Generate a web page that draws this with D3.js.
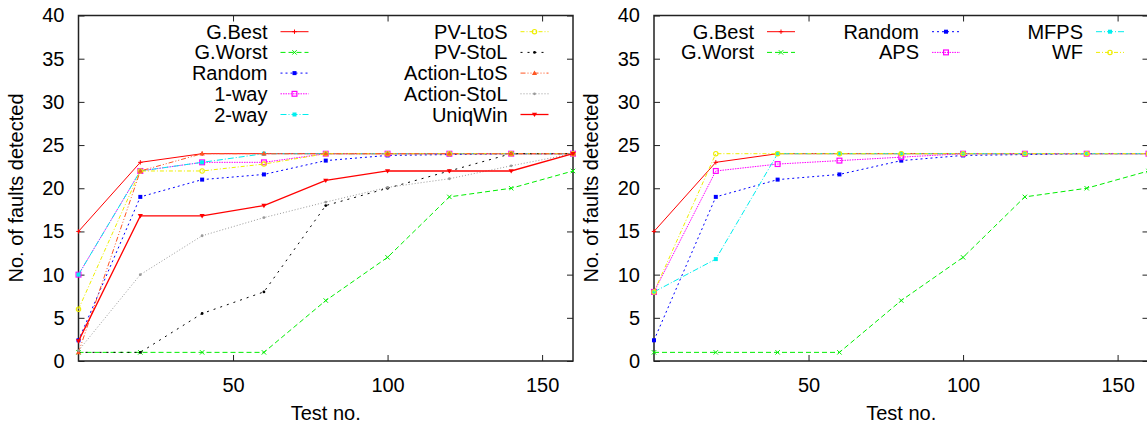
<!DOCTYPE html>
<html>
<head>
<meta charset="UTF-8">
<title>Faults detected</title>
<script src="https://d3js.org/d3.v7.min.js"></script>
<style>
  body { margin: 0; background: #fff; }
  svg text { font-family: "Liberation Sans", Arial, sans-serif; font-size: 20px; fill: #000; }
</style>
</head>
<body>
<svg id="chart" width="1147" height="425"></svg>
<script>
// data
const testNos = [0, 20, 40, 60, 80, 100, 120, 140, 160];
const xTicks = [50, 100, 150];
const yTicks = [0, 5, 10, 15, 20, 25, 30, 35, 40];

const gBest      = [15, 23, 24, 24, 24, 24, 24, 24, 24];
const gWorst     = [1, 1, 1, 1, 7, 12, 19, 20, 22];
const random     = [2.4, 19, 21, 21.6, 23.2, 23.8, 23.9, 24, 24];
const oneWay     = [10, 22, 23, 23, 24, 24, 24, 24, 24];
const twoWay     = [10, 22, 23, 24, 24, 24, 24, 24, 24];
const pvLtoS     = [6, 22, 22, 22.8, 24, 24, 24, 24, 24];
const pvStoL     = [1, 1, 5.5, 8, 18, 20, 22, 24, 24];
const actionLtoS = [1, 22, 24, 24, 24, 24, 24, 24, 24];
const actionStoL = [1.2, 10, 14.5, 16.6, 18.4, 20.1, 21.1, 22.6, 24];
const uniqWin    = [2.3, 16.8, 16.8, 18, 20.9, 22, 22, 22, 24];

const aps  = [8, 22, 22.8, 23.2, 23.6, 24, 24, 24, 24];
const mfps = [8, 11.8, 24, 24, 24, 24, 24, 24, 24];
const wf   = [8, 24, 24, 24, 24, 24, 24, 24, 24];

const leftNames  = ["G.Best", "G.Worst", "Random", "1-way", "2-way", "PV-LtoS", "PV-StoL", "Action-LtoS", "Action-StoL", "UniqWin"];
const rightNames = ["G.Best", "G.Worst", "Random", "APS", "MFPS", "WF"];

// styles
const sty = {
  "G.Best":      {c: "#ff0000", d: null,          w: 1,   m: "plus"},
  "G.Worst":     {c: "#00ee00", d: "5,3",         w: 1,   m: "cross"},
  "Random":      {c: "#0000ff", d: "2,3",         w: 1,   m: "sqfill"},
  "1-way":       {c: "#ff00ff", d: "1.5,1",       w: 1,   m: "sq"},
  "2-way":       {c: "#00eeee", d: "6,2,1,2",     w: 1,   m: "sqfill"},
  "PV-LtoS":     {c: "#eeee00", d: "4,2,1,2",     w: 1,   m: "circ"},
  "PV-StoL":     {c: "#000000", d: "2,5",         w: 1,   m: "dot"},
  "Action-LtoS": {c: "#ff5522", d: "5,2,1,2,1,2", w: 1,   m: "tri"},
  "Action-StoL": {c: "#999999", d: "1,2",         w: 1,   m: "dot"},
  "UniqWin":     {c: "#ff0000", d: null,          w: 1.3, m: "tridown"},
  "APS":         {c: "#ff00ff", d: "1.5,1",       w: 1,   m: "sq"},
  "MFPS":        {c: "#00eeee", d: "6,2,1,2",     w: 1,   m: "sqfill"},
  "WF":          {c: "#eeee00", d: "4,2,1,2",     w: 1,   m: "circ"}
};

const values = {
  "G.Best": gBest, "G.Worst": gWorst, "Random": random, "1-way": oneWay, "2-way": twoWay,
  "PV-LtoS": pvLtoS, "PV-StoL": pvStoL, "Action-LtoS": actionLtoS, "Action-StoL": actionStoL,
  "UniqWin": uniqWin, "APS": aps, "MFPS": mfps, "WF": wf
};

const svg = d3.select("#chart");

function marker(g, type, x, y, col) {
  const s = 2.2;
  if (type === "plus") {
    g.append("path").attr("d", `M${x-s},${y}H${x+s}M${x},${y-s}V${y+s}`).attr("stroke", col).attr("fill", "none");
  } else if (type === "cross") {
    g.append("path").attr("d", `M${x-s},${y-s}L${x+s},${y+s}M${x-s},${y+s}L${x+s},${y-s}`).attr("stroke", col).attr("fill", "none");
  } else if (type === "sqfill") {
    g.append("rect").attr("x", x-2).attr("y", y-2).attr("width", 4).attr("height", 4).attr("fill", col);
  } else if (type === "sq") {
    g.append("rect").attr("x", x-2.4).attr("y", y-2.4).attr("width", 4.8).attr("height", 4.8).attr("fill", "none").attr("stroke", col).attr("stroke-width", 1.2);
  } else if (type === "circ") {
    g.append("circle").attr("cx", x).attr("cy", y).attr("r", 2.2).attr("fill", "none").attr("stroke", col).attr("stroke-width", 1.1);
  } else if (type === "dot") {
    g.append("circle").attr("cx", x).attr("cy", y).attr("r", 1.4).attr("fill", col);
  } else if (type === "tri") {
    g.append("path").attr("d", `M${x},${y-2.6}L${x+2.6},${y+1.8}L${x-2.6},${y+1.8}Z`).attr("fill", col);
  } else if (type === "tridown") {
    g.append("path").attr("d", `M${x},${y+2.6}L${x+2.6},${y-1.8}L${x-2.6},${y-1.8}Z`).attr("fill", col);
  }
}

function drawPanel(left, names, legendCols) {
  const top = 15.5, bottom = 361, right = left + 494.5;
  const x = d3.scaleLinear().domain([0, 160]).range([left, right]);
  const y = d3.scaleLinear().domain([0, 40]).range([bottom, top]);
  const g = svg.append("g");

  // axes with inner ticks, mirrored
  const xb = g.append("g").attr("transform", `translate(0,${bottom})`)
    .call(d3.axisBottom(x).tickValues(xTicks).tickSize(-6).tickPadding(13).tickFormat(d3.format("d")));
  g.append("g").attr("transform", `translate(0,${top})`)
    .call(d3.axisTop(x).tickValues(xTicks).tickSize(-6).tickFormat(""));
  g.append("g").attr("transform", `translate(${left},0)`)
    .call(d3.axisLeft(y).tickValues(yTicks).tickSize(-6).tickPadding(14));
  g.append("g").attr("transform", `translate(${right},0)`)
    .call(d3.axisRight(y).tickValues(yTicks).tickSize(-6).tickFormat(""));
  g.selectAll(".domain").remove();
  g.selectAll(".tick line").attr("stroke", "#222");
  g.selectAll(".tick text").attr("fill", "#000").style("font-size", "20px")
    .style("font-family", "'Liberation Sans', Arial, sans-serif");
  xb.selectAll(".tick text").attr("dy", "0.9em");
  g.append("rect").attr("x", left).attr("y", top).attr("width", right - left).attr("height", bottom - top)
    .attr("fill", "none").attr("stroke", "#222").attr("stroke-width", 1.5);

  g.append("text").attr("x", (left + right) / 2).attr("y", 420).attr("text-anchor", "middle").text("Test no.");
  g.append("text").attr("transform", `translate(${left - 56},188) rotate(-90)`)
    .attr("text-anchor", "middle").text("No. of faults detected");

  // series
  const line = d3.line().x((d, i) => x(testNos[i])).y(d => y(d));
  const lines = g.append("g");
  names.forEach(n => {
    const s = sty[n];
    lines.append("path").datum(values[n]).attr("d", line)
      .attr("fill", "none").attr("stroke", s.c).attr("stroke-width", s.w)
      .attr("stroke-dasharray", s.d);
    values[n].forEach((v, i) => marker(lines, s.m, x(testNos[i]), y(v), s.c));
  });

  // legend
  legendCols.forEach(col => {
    col.names.forEach((n, r) => {
      const s = sty[n];
      const cy = 31.7 + r * 20.7;
      g.append("text").attr("x", col.tx).attr("y", cy + 7).attr("text-anchor", "end").text(n);
      g.append("line").attr("x1", col.tx + 13).attr("x2", col.tx + 41).attr("y1", cy).attr("y2", cy)
        .attr("stroke", s.c).attr("stroke-width", s.w).attr("stroke-dasharray", s.d);
      marker(g, s.m, col.tx + 27, cy, s.c);
    });
  });
}

drawPanel(78.5, leftNames, [
  {tx: 267.5, names: leftNames.slice(0, 5)},
  {tx: 507.5, names: leftNames.slice(5)}
]);
drawPanel(654, rightNames, [
  {tx: 754, names: rightNames.slice(0, 2)},
  {tx: 919, names: rightNames.slice(2, 4)},
  {tx: 1083, names: rightNames.slice(4)}
]);
</script>
</body>
</html>
